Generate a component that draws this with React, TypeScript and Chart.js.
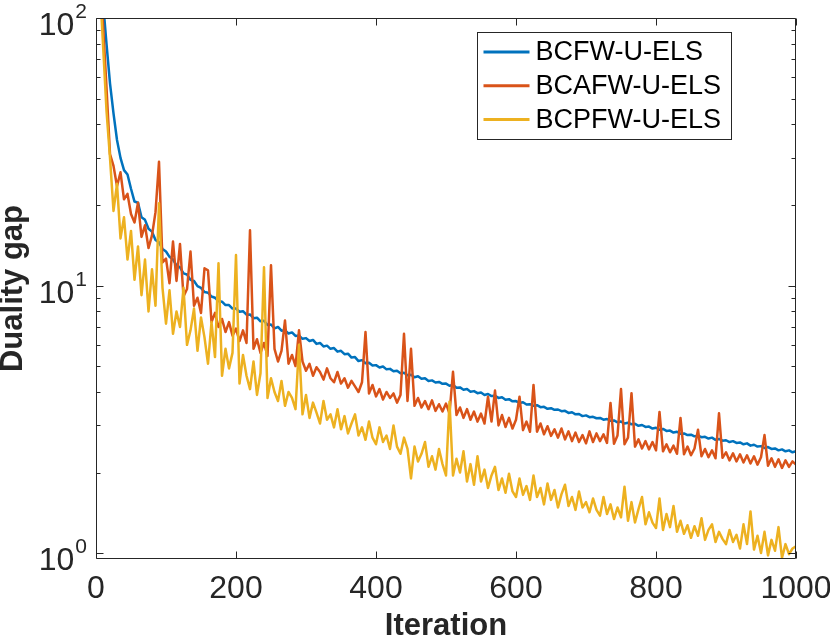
import { useEffect, useRef } from "react";
import { Chart, registerables } from "chart.js";

Chart.register(...registerables);

const SERIES_LABELS = ["BCFW-U-ELS", "BCAFW-U-ELS", "BCPFW-U-ELS"];
const SERIES_COLORS = ["#0072BD", "#D95319", "#EDB120"];
const ITER_STEP = 5;
const ITERATIONS = Array.from({ length: 200 }, (_, i) => (i + 1) * ITER_STEP);

const BCFW = [
  170, 115, 80, 57, 44, 35, 30, 27, 26, 23,
  20.6, 20.4, 18.0, 17.6, 16.3, 15.9, 14.8, 14.5, 13.7, 13.4,
  12.8, 12.5, 11.9, 11.7, 11.1, 11.0, 10.5, 10.4, 9.95, 9.8,
  9.45, 9.4, 9.1, 9.0, 8.75, 8.7, 8.45, 8.45, 8.2, 8.2,
  7.98, 8.02, 7.78, 7.8, 7.55, 7.58, 7.35, 7.38, 7.12, 7.15,
  6.92, 7.0, 6.78, 6.8, 6.62, 6.68, 6.48, 6.5, 6.32, 6.36,
  6.2, 6.26, 6.05, 6.1, 5.92, 5.96, 5.8, 5.84, 5.66, 5.7,
  5.54, 5.56, 5.38, 5.4, 5.22, 5.26, 5.12, 5.14, 5.02, 5.04,
  4.94, 4.98, 4.86, 4.88, 4.78, 4.8, 4.7, 4.72, 4.62, 4.64,
  4.54, 4.58, 4.48, 4.5, 4.4, 4.42, 4.34, 4.36, 4.29, 4.3,
  4.22, 4.25, 4.15, 4.16, 4.08, 4.1, 4.01, 4.03, 3.96, 3.98,
  3.9, 3.93, 3.86, 3.87, 3.8, 3.82, 3.74, 3.76, 3.69, 3.7,
  3.64, 3.66, 3.59, 3.6, 3.55, 3.57, 3.51, 3.52, 3.46, 3.48,
  3.43, 3.44, 3.39, 3.4, 3.34, 3.36, 3.3, 3.31, 3.25, 3.27,
  3.22, 3.23, 3.19, 3.2, 3.15, 3.17, 3.12, 3.13, 3.08, 3.1,
  3.05, 3.07, 3.03, 3.04, 2.99, 3.01, 2.96, 2.97, 2.92, 2.94,
  2.89, 2.91, 2.86, 2.87, 2.82, 2.84, 2.79, 2.8, 2.76, 2.77,
  2.73, 2.75, 2.71, 2.72, 2.68, 2.7, 2.65, 2.67, 2.63, 2.64,
  2.6, 2.62, 2.58, 2.59, 2.55, 2.57, 2.52, 2.54, 2.5, 2.51,
  2.47, 2.49, 2.45, 2.46, 2.42, 2.44, 2.4, 2.42, 2.38, 2.4,
];

const BCAFW = [
  150, 95, 55, 31, 28, 23.5, 26.5, 21, 22, 18.5,
  17.2, 20.4, 15.2, 16.8, 13.8, 15.4, 18.8, 29, 12.2, 12.6,
  10.2, 14.6, 10.4, 14.3, 9.1, 9.7, 13.4, 8.4, 9.0, 7.9,
  11.6, 11.4, 7.3, 7.9, 7.0, 7.5, 6.7, 7.3, 6.5, 6.9,
  6.2, 6.8, 6.1, 16.1, 5.8, 6.3, 5.6, 6.1, 5.45, 11.9,
  5.8, 5.2, 5.7, 7.4, 5.1, 5.5, 5.0, 6.8, 5.2, 4.8,
  5.1, 4.6, 4.95, 4.75, 4.45, 4.9, 4.5, 4.35, 4.75, 4.3,
  4.5, 4.15, 4.4, 4.2, 4.0, 4.35, 6.7, 3.95, 4.25, 3.85,
  4.1, 3.75, 4.0, 3.8, 3.95, 3.65, 3.9, 6.6, 3.7, 5.8,
  3.55, 3.8, 3.5, 3.7, 3.45, 3.72, 3.4, 3.6, 3.38, 3.62,
  3.32, 4.76, 3.28, 3.5, 3.2, 3.45, 3.15, 3.38, 3.1, 3.32,
  3.05, 3.84, 3.1, 4.05, 3.0, 3.28, 2.96, 3.2, 2.92, 3.15,
  3.84, 2.88, 3.1, 2.84, 4.25, 2.84, 3.05, 2.78, 2.98, 2.74,
  2.9, 2.7, 2.92, 2.66, 2.85, 2.62, 2.82, 2.6, 2.76, 2.57,
  2.85, 2.6, 2.8, 2.62, 2.78, 2.58, 3.64, 2.56, 2.75, 4.1,
  2.55, 2.7, 3.96, 2.5, 2.66, 2.46, 2.62, 2.44, 2.6, 2.42,
  3.37, 2.4, 2.55, 2.38, 2.52, 2.35, 3.2, 2.34, 2.5, 2.32,
  2.46, 2.89, 2.3, 2.45, 2.28, 2.42, 2.26, 3.33, 2.27, 2.38,
  2.22, 2.36, 2.2, 2.34, 2.18, 2.32, 2.16, 2.3, 2.14, 2.28,
  2.76, 2.12, 2.26, 2.1, 2.24, 2.08, 2.22, 2.1, 2.2, 2.14,
];

const BCPFW = [
  140, 80, 45, 30, 19, 24, 15, 18, 12.5, 16,
  10.5, 14, 9.2, 12.5, 8.0, 11.5, 8.4, 20.3, 9.8, 7.2,
  9.6, 6.6, 8.0, 7.0, 9.8, 6.0, 6.8, 8.2, 5.7, 7.6,
  6.4, 5.1, 7.3, 5.4, 12.1, 4.6, 5.8, 4.9, 5.6, 13.0,
  4.3, 5.5, 4.6, 4.1, 5.2, 3.9, 4.7, 11.7, 3.8, 4.5,
  4.0, 3.7, 4.4, 3.55, 4.0, 3.8, 3.45, 6.0, 3.3, 3.9,
  3.2, 3.65, 3.35, 3.05, 3.7, 3.15, 3.3, 2.95, 3.45, 2.9,
  3.25, 2.8, 3.05, 3.3, 2.75, 2.95, 2.65, 3.1, 2.7, 2.55,
  2.95, 2.6, 2.75, 2.45, 3.0, 2.5, 2.35, 2.7, 2.45, 1.9,
  2.5, 2.2, 2.35, 2.6, 2.1, 2.3, 2.05, 2.45, 2.15, 1.95,
  3.68, 1.95, 2.25, 2.0, 2.4, 1.85, 2.15, 1.8, 2.3, 1.85,
  2.05, 1.75, 1.95, 2.1, 1.72, 1.9, 1.68, 1.98, 1.7, 1.62,
  1.9, 1.65, 1.78, 1.58, 1.95, 1.62, 1.75, 1.52, 1.82, 1.58,
  1.72, 1.48, 1.66, 1.8, 1.5, 1.62, 1.45, 1.7, 1.48, 1.55,
  1.42, 1.6, 1.45, 1.38, 1.62, 1.4, 1.52, 1.34, 1.48, 1.36,
  1.77, 1.32, 1.55, 1.3, 1.46, 1.62, 1.28, 1.42, 1.3, 1.24,
  1.6, 1.22, 1.4, 1.25, 1.5, 1.2, 1.32, 1.18, 1.27, 1.14,
  1.26, 1.16, 1.35, 1.12, 1.22, 1.28, 1.1, 1.2, 1.13, 1.08,
  1.22, 1.1, 1.17, 1.04, 1.28, 1.08, 1.43, 1.03, 1.16, 1.0,
  1.2, 0.98, 1.12, 1.02, 1.25, 0.96, 1.08, 0.99, 1.04, 1.06,
];

const SERIES_VALUES = [BCFW, BCAFW, BCPFW];
const X_TICKS = [0, 200, 400, 600, 800, 1000];
const Y_MAJOR = [1, 10, 100];
const Y_EXPONENTS = ["0", "1", "2"];
const Y_MINOR = [2, 3, 4, 5, 6, 7, 8, 9, 20, 30, 40, 50, 60, 70, 80, 90];

const FONT = '"Liberation Sans", Arial, Helvetica, sans-serif';
const AXIS_COLOR = "#262626";

const matlabAxes = {
  id: "matlabAxes",
  afterDatasetsDraw(chart: any) {
    const { ctx, chartArea: a, scales } = chart;
    const xs = scales.x;
    const ys = scales.y;
    const L = Math.round(a.left) + 0.5;
    const R = Math.round(a.right) - 0.5;
    const T = Math.round(a.top) + 0.5;
    const B = Math.round(a.bottom) - 0.5;
    ctx.save();
    ctx.strokeStyle = AXIS_COLOR;
    ctx.lineWidth = 1;
    ctx.beginPath();
    ctx.rect(L, T, R - L, B - T);
    for (const v of X_TICKS) {
      const px = Math.round(xs.getPixelForValue(v)) + 0.5;
      ctx.moveTo(px, B);
      ctx.lineTo(px, B - 7);
      ctx.moveTo(px, T);
      ctx.lineTo(px, T + 7);
    }
    const yTick = (v: number, len: number) => {
      const py = Math.round(ys.getPixelForValue(v)) + 0.5;
      ctx.moveTo(L, py);
      ctx.lineTo(L + len, py);
      ctx.moveTo(R, py);
      ctx.lineTo(R - len, py);
    };
    Y_MAJOR.forEach((v) => yTick(v, 7));
    Y_MINOR.forEach((v) => yTick(v, 4));
    ctx.stroke();

    // y tick labels with superscript exponents
    ctx.fillStyle = AXIS_COLOR;
    ctx.textAlign = "right";
    ctx.textBaseline = "alphabetic";
    const expRight = a.left - 9;
    Y_MAJOR.forEach((v, i) => {
      const py = ys.getPixelForValue(v);
      ctx.font = `21px ${FONT}`;
      const exp = Y_EXPONENTS[i];
      ctx.fillText(exp, expRight, py);
      const w = ctx.measureText(exp).width;
      ctx.font = `32px ${FONT}`;
      ctx.fillText("10", expRight - w - 1, py + 17);
    });

    // legend
    const boxL = Math.round(a.right) - 319 + 0.5;
    const boxT = Math.round(a.top) + 14 + 0.5;
    const boxW = 254;
    const boxH = 107;
    ctx.fillStyle = "#ffffff";
    ctx.fillRect(boxL, boxT, boxW, boxH);
    ctx.strokeStyle = AXIS_COLOR;
    ctx.lineWidth = 1;
    ctx.strokeRect(boxL, boxT, boxW, boxH);
    ctx.font = `27px ${FONT}`;
    ctx.textAlign = "left";
    ctx.textBaseline = "middle";
    chart.data.datasets.forEach((ds: any, i: number) => {
      const ry = boxT + 19.5 + i * 33.7;
      ctx.strokeStyle = ds.borderColor;
      ctx.lineWidth = 3;
      ctx.beginPath();
      ctx.moveTo(boxL + 6, ry);
      ctx.lineTo(boxL + 52, ry);
      ctx.stroke();
      ctx.fillStyle = "#000000";
      ctx.fillText(ds.label, boxL + 58, ry + 1);
    });
    ctx.restore();
  },
};

export default function App() {
  const ref = useRef<HTMLCanvasElement | null>(null);
  useEffect(() => {
    if (!ref.current) return;
    const datasets = SERIES_LABELS.map((label, i) => ({
      label,
      data: ITERATIONS.map((it, j) => ({ x: it, y: SERIES_VALUES[i][j] })),
      borderColor: SERIES_COLORS[i],
      backgroundColor: SERIES_COLORS[i],
      borderWidth: 2.5,
      pointRadius: 0,
      tension: 0,
      fill: false,
      borderJoinStyle: "round" as const,
      order: 3 - i,
    }));
    const chart = new Chart(ref.current, {
      type: "line",
      data: { datasets },
      options: {
        responsive: false,
        animation: false,
        events: [],
        layout: { padding: { left: 0, right: 34, top: 18, bottom: 0 } },
        plugins: { legend: { display: false }, tooltip: { enabled: false } },
        scales: {
          x: {
            type: "linear",
            min: 0,
            max: 1000,
            ticks: {
              stepSize: 200,
              color: AXIS_COLOR,
              font: { family: FONT, size: 32, lineHeight: 1.2 },
              padding: 11,
              maxRotation: 0,
              autoSkip: false,
              callback: (v: any) => String(v),
            },
            grid: { display: false, drawTicks: false },
            border: { display: false },
            title: {
              display: true,
              text: "Iteration",
              color: AXIS_COLOR,
              font: { family: FONT, size: 31, weight: "bold", lineHeight: 0.9 },
              padding: 0,
            },
            afterFit: (s: any) => {
              s.height = 81;
              s.paddingLeft = 0;
              s.paddingRight = 0;
            },
          },
          y: {
            type: "logarithmic",
            min: 0.95,
            max: 100,
            ticks: { display: false },
            grid: { display: false, drawTicks: false },
            border: { display: false },
            title: {
              display: true,
              text: "Duality gap",
              color: AXIS_COLOR,
              font: { family: FONT, size: 31, weight: "bold", lineHeight: 0.9 },
              padding: 0,
            },
            afterFit: (s: any) => {
              s.width = 96;
              s.paddingTop = 0;
              s.paddingBottom = 0;
            },
          },
        },
      },
      plugins: [matlabAxes],
    });
    return () => chart.destroy();
  }, []);
  return (
    <div style={{ position: "fixed", left: 0, top: 0, width: 830, height: 640, background: "#fff" }}>
      <canvas ref={ref} width={830} height={640} style={{ width: 830, height: 640 }} />
    </div>
  );
}
